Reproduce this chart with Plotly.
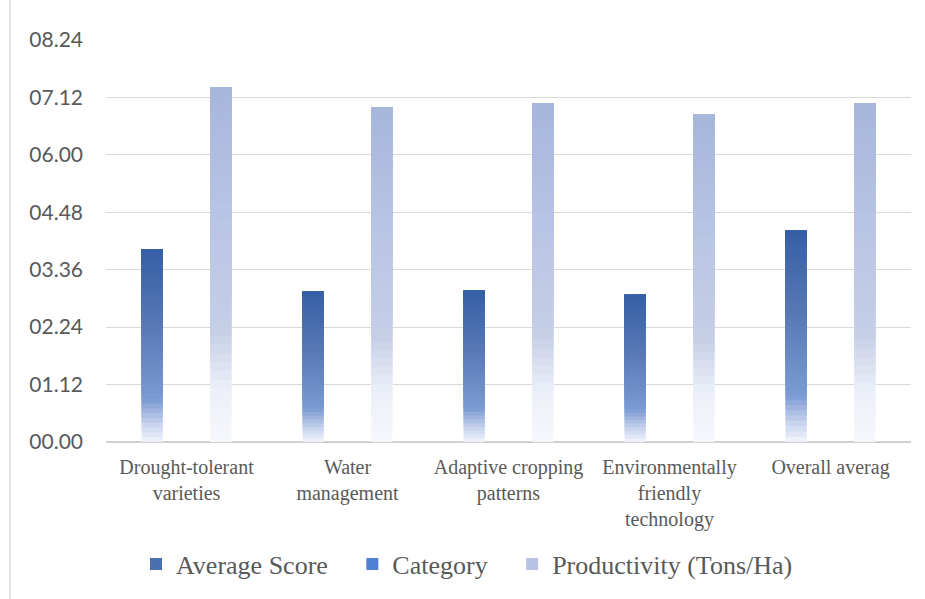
import plotly.graph_objects as go

categories = ["Drought-tolerant<br>varieties", "Water<br>management",
              "Adaptive cropping<br>patterns", "Environmentally<br>friendly<br>technology",
              "Overall averag"]
average_score = [3.76, 2.93, 2.95, 2.87, 4.12]
category_vals = [0, 0, 0, 0, 0]
productivity = [6.92, 6.53, 6.61, 6.38, 6.61]

tick_vals = [0, 1.12, 2.24, 3.36, 4.48, 5.60, 6.72, 7.84]
tick_text = ["00.00", "01.12", "02.24", "03.36", "04.48", "06.00", "07.12", "08.24"]

W, H = 925, 599
ML, MR, MT, MB = 106, 14, 40, 157
PH = H - MT - MB
PW = W - ML - MR

def hex2rgb(h):
    h = h.lstrip('#')
    return [int(h[i:i+2], 16) for i in (0, 2, 4)]

def grad(stops, t):
    for (p0, c0), (p1, c1) in zip(stops[:-1], stops[1:]):
        if p0 <= t <= p1:
            f = (t - p0) / (p1 - p0) if p1 > p0 else 0
            a, b = hex2rgb(c0), hex2rgb(c1)
            return "rgb(%d,%d,%d)" % tuple(round(a[i] + (b[i] - a[i]) * f) for i in range(3))
    return stops[-1][1]

avg_stops = [(0.0, "#f1f4fb"), (0.10, "#c3d0ec"), (0.22, "#7b9bd3"), (0.6, "#5879b6"), (1.0, "#355fa5")]
prod_stops = [(0.0, "#f7f8fc"), (0.15, "#eceff8"), (0.32, "#c5cee7"), (0.6, "#bac6e4"), (1.0, "#a6b6db")]

fig = go.Figure()
K = 40
SP = "\u00a0\u00a0\u00a0"

def add_series(name, vals, stops, legend_color, group):
    for k in range(K):
        t0, t1 = k / K, (k + 1) / K
        fig.add_trace(go.Bar(
            x=categories, y=[v * (1 - t0) for v in vals], base=[v * t0 for v in vals],
            offsetgroup=group, legendgroup=group, showlegend=False,
            marker=dict(color=grad(stops, (t0 + t1) / 2), line=dict(width=0)),
            hoverinfo="skip"))
    fig.add_trace(go.Bar(x=categories, y=[None] * len(vals), name=name,
                         offsetgroup=group, legendgroup=group,
                         marker=dict(color=legend_color, line=dict(width=0))))

add_series("Average Score" + SP, average_score, avg_stops, "#4a6fb0", "avg")
fig.add_trace(go.Bar(x=categories, y=category_vals, name="Category" + SP, offsetgroup="cat",
                     marker=dict(color="#4f7fd0", line=dict(width=0))))
add_series("Productivity (Tons/Ha)", productivity, prod_stops, "#b6c3e3", "prod")

fig.add_shape(type="line", xref="paper", yref="paper",
              x0=(10 - ML) / PW, x1=(10 - ML) / PW,
              y0=-(H - MT - PH) / PH, y1=1 + MT / PH,
              line=dict(color="#d9d9d9", width=1.5))

fig.update_layout(
    width=W, height=H, margin=dict(l=ML, r=MR, t=MT, b=MB, autoexpand=False),
    paper_bgcolor="white", plot_bgcolor="white",
    barmode="group", bargap=0.36, bargroupgap=0.39,
    font=dict(family="Liberation Serif", color="#595959"),
    legend=dict(orientation="h", x=(136 - ML) / PW, xanchor="left",
                y=(MT + PH - 564) / PH, yanchor="middle",
                font=dict(family="Liberation Serif", size=26, color="#595959"),
                traceorder="normal", itemwidth=30),
    xaxis=dict(showgrid=False, showline=False, ticks="", zeroline=False,
               tickfont=dict(family="Liberation Serif", size=20, color="#595959"),
               ticklabelstandoff=11, tickangle=0),
    yaxis=dict(range=[0, 7.84], tickvals=tick_vals, ticktext=tick_text,
               showgrid=True, gridcolor="#d9d9d9", gridwidth=1.3,
               zeroline=True, zerolinecolor="#d0d0d0", zerolinewidth=1.5,
               showline=False, ticks="", ticklabelstandoff=22,
               tickfont=dict(family="Lato", size=21, color="#595959")),
)

fig.write_html("out.html", config={"displayModeBar": False},
               post_script="document.body.style.margin='0';document.body.style.padding='0';")
